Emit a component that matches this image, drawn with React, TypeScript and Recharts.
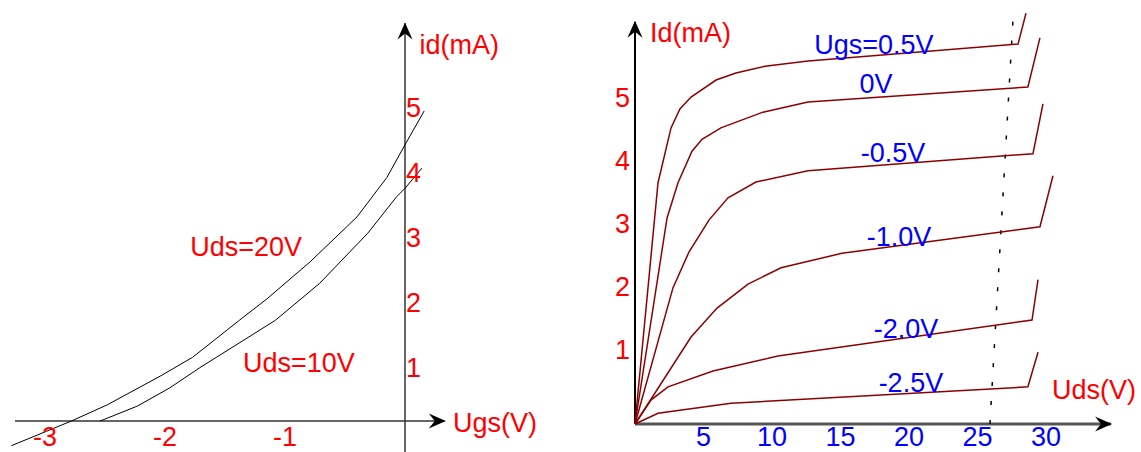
import React from "react";
import { LineChart, Line, XAxis, YAxis, ReferenceLine, ReferenceDot } from "recharts";

// transfer characteristic, id vs Ugs
const ugsTicks = [-3, -2, -1];
const idTicks = [1, 2, 3, 4, 5];
const ugs20 = [-3.28, -2.78, -2.48, -2.04, -1.77, -1.38, -1.15, -0.79, -0.4, -0.15, 0, 0.16];
const id20 = [-0.38, 0, 0.25, 0.69, 0.98, 1.55, 1.88, 2.45, 3.14, 3.75, 4.25, 4.77];
const ugs10 = [-2.54, -2.23, -1.96, -1.71, -1.08, -0.71, -0.31, -0.07, 0, 0.14];
const id10 = [0, 0.23, 0.51, 0.82, 1.55, 2.12, 2.89, 3.45, 3.58, 3.89];

// output characteristic, Id vs Uds
const udsTicks = [5, 10, 15, 20, 25, 30];
const idOutTicks = [1, 2, 3, 4, 5];
const uds05 = [0, 1.68, 2.63, 3.28, 4.09, 5.92, 7.37, 9.49, 12.63, 27.96, 28.54];
const id05 = [0, 3.83, 4.7, 5.0, 5.19, 5.46, 5.57, 5.68, 5.76, 6.03, 6.52];
const uds0 = [0, 2.34, 3.14, 4.16, 4.89, 6.27, 9.34, 12.63, 28.68, 29.56];
const id0 = [0, 3.27, 3.83, 4.33, 4.52, 4.7, 4.95, 5.11, 5.35, 6.13];
const udsM05 = [0, 2.77, 3.94, 5.41, 6.79, 8.83, 12.63, 29.05, 29.78];
const idM05 = [0, 2.16, 2.73, 3.24, 3.59, 3.84, 4.02, 4.29, 5.08];
const udsM10 = [0, 4.09, 5.99, 8.25, 10.66, 15.11, 29.56, 30.51];
const idM10 = [0, 1.38, 1.84, 2.22, 2.48, 2.71, 3.13, 3.94];
const udsM20 = [0, 1.16, 2.41, 5.69, 10.43, 28.98, 29.42];
const idM20 = [0, 0.38, 0.59, 0.84, 1.08, 1.65, 2.29];
const udsM25 = [0, 1.68, 7.01, 28.68, 29.42];
const idM25 = [0, 0.17, 0.33, 0.59, 1.14];
const ugsLabels = ["Ugs=0.5V", "0V", "-0.5V", "-1.0V", "-2.0V", "-2.5V"];

const zip = (xs: number[], ys: number[]) => xs.map((x, i) => ({ x, y: ys[i] }));

const FONT = "'Liberation Sans', Arial, sans-serif";
const RED = "#ff0000";
const BLUE = "#0000ff";
const CURVE = "#8b0000";

const txt = (value: string, color: string, anchor: string = "start") => (p: any) => (
  <text
    x={p.cx}
    y={p.cy}
    fill={color}
    fontSize={27}
    fontFamily={FONT}
    textAnchor={anchor}
    dominantBaseline="central"
  >
    {value}
  </text>
);

const arrow = (angle: number) => (p: any) => (
  <path
    d="M0,0 L-17,-7.5 L-11,0 L-17,7.5 Z"
    transform={`translate(${p.cx},${p.cy}) rotate(${angle})`}
    fill="#000"
  />
);

const Transfer = () => (
  <LineChart width={560} height={452} margin={{ top: 18, right: 17, bottom: 0.75, left: 2 }}>
    <XAxis
      type="number"
      dataKey="x"
      domain={[-3.35, 1.15]}
      ticks={ugsTicks}
      interval={0}
      height={1}
      axisLine={false}
      tickLine={false}
      tick={(p: any) => (
        <text x={p.x} y={437} fill={RED} fontSize={27} fontFamily={FONT} textAnchor="middle" dominantBaseline="central">
          {p.payload.value}
        </text>
      )}
    />
    <YAxis
      type="number"
      dataKey="y"
      domain={[-0.45, 6.2]}
      ticks={idTicks}
      interval={0}
      width={1}
      axisLine={false}
      tickLine={false}
      tick={(p: any) => (
        <text x={406} y={p.y + 12} fill={RED} fontSize={27} fontFamily={FONT} textAnchor="start" dominantBaseline="central">
          {p.payload.value}
        </text>
      )}
    />
    <ReferenceLine segment={[{ x: -3.25, y: 0 }, { x: 0.33, y: 0 }]} stroke="#333" strokeWidth={1.5} ifOverflow="visible" />
    <ReferenceLine segment={[{ x: 0, y: -0.5 }, { x: 0, y: 6.12 }]} stroke="#333" strokeWidth={1.5} ifOverflow="visible" />
    <ReferenceDot x={0.34} y={0} shape={arrow(0)} ifOverflow="visible" />
    <ReferenceDot x={0} y={6.13} shape={arrow(-90)} ifOverflow="visible" />
    <Line data={zip(ugs20, id20)} dataKey="y" type="linear" stroke="#000" strokeWidth={1} dot={false} isAnimationActive={false} />
    <Line data={zip(ugs10, id10)} dataKey="y" type="linear" stroke="#000" strokeWidth={1} dot={false} isAnimationActive={false} />
    <ReferenceDot x={0.12} y={5.78} shape={txt("id(mA)", RED)} ifOverflow="visible" />
    <ReferenceDot x={0.4} y={-0.03} shape={txt("Ugs(V)", RED)} ifOverflow="visible" />
    <ReferenceDot x={-1.79} y={2.68} shape={txt("Uds=20V", RED)} ifOverflow="visible" />
    <ReferenceDot x={-1.35} y={0.89} shape={txt("Uds=10V", RED)} ifOverflow="visible" />
  </LineChart>
);

const outSeries = [
  zip(uds05, id05),
  zip(uds0, id0),
  zip(udsM05, idM05),
  zip(udsM10, idM10),
  zip(udsM20, idM20),
  zip(udsM25, idM25),
];
const labelPos = [
  [17.44, 6.02],
  [17.59, 5.4],
  [18.83, 4.3],
  [19.27, 2.97],
  [19.78, 1.51],
  [20.14, 0.65],
];

const Output = () => (
  <LineChart width={561} height={452} margin={{ top: 1.9, right: 2, bottom: 1.8, left: 5 }}>
    <XAxis
      type="number"
      dataKey="x"
      domain={[-3.577, 36.79]}
      ticks={udsTicks}
      interval={0}
      height={1}
      axisLine={false}
      tickLine={false}
      tick={(p: any) => (
        <text x={p.x} y={437} fill={BLUE} fontSize={27} fontFamily={FONT} textAnchor="middle" dominantBaseline="central">
          {p.payload.value}
        </text>
      )}
    />
    <YAxis
      type="number"
      dataKey="y"
      domain={[-0.4, 6.7]}
      ticks={idOutTicks}
      interval={0}
      width={1}
      axisLine={false}
      tickLine={false}
      tick={(p: any) => (
        <text x={50} y={p.y - 2} fill={RED} fontSize={27} fontFamily={FONT} textAnchor="end">
          {p.payload.value}
        </text>
      )}
    />
    <ReferenceLine segment={[{ x: 0, y: 0 }, { x: 34.74, y: 0 }]} stroke="#555" strokeWidth={3} ifOverflow="visible" />
    <ReferenceLine segment={[{ x: 0, y: 0 }, { x: 0, y: 6.38 }]} stroke="#000" strokeWidth={2} ifOverflow="visible" />
    <ReferenceDot x={34.82} y={0} shape={arrow(0)} ifOverflow="visible" />
    <ReferenceDot x={0} y={6.4} shape={arrow(-90)} ifOverflow="visible" />
    <ReferenceLine
      segment={[{ x: 25.91, y: 0 }, { x: 27.59, y: 6.41 }]}
      stroke="#000"
      strokeWidth={1.5}
      strokeDasharray="4 15"
      ifOverflow="visible"
    />
    {outSeries.map((d, i) => (
      <Line
        key={i}
        data={d}
        dataKey="y"
        type="linear"
        stroke={CURVE}
        strokeWidth={1.5}
        dot={false}
        isAnimationActive={false}
      />
    ))}
    {ugsLabels.map((l, i) => (
      <ReferenceDot key={l} x={labelPos[i][0]} y={labelPos[i][1]} shape={txt(l, BLUE, "middle")} ifOverflow="visible" />
    ))}
    <ReferenceDot x={1.09} y={6.21} shape={txt("Id(mA)", RED)} ifOverflow="visible" />
    <ReferenceDot x={30.44} y={0.54} shape={txt("Uds(V)", RED)} ifOverflow="visible" />
  </LineChart>
);

export default function App() {
  return (
    <div style={{ position: "absolute", left: 0, top: 0, width: 1141, height: 452, background: "#fff" }}>
      <div style={{ position: "absolute", left: 0, top: 0 }}>
        <Transfer />
      </div>
      <div style={{ position: "absolute", left: 580, top: 0 }}>
        <Output />
      </div>
    </div>
  );
}
